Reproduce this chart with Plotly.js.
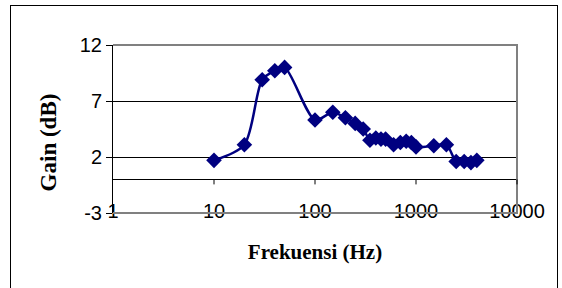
<!DOCTYPE html>
<html><head><meta charset="utf-8">
<script src="https://cdn.plot.ly/plotly-3.0.1.min.js"></script>
<style>
html,body{margin:0;padding:0;background:#fff;}
#wrap{position:relative;width:562px;height:288px;overflow:hidden;}
#chart{width:562px;height:288px;}
#frame{position:absolute;left:10px;top:5px;width:546px;height:320px;border:1px solid #000;pointer-events:none;}
</style>
</head><body>
<div id="wrap"><div id="chart"></div><div id="frame"></div></div>
<script>
const freq = [10,20,30,40,50,100,150,200,250,300,350,400,450,500,600,700,800,900,1000,1500,2000,2500,3000,3500,4000];
const gain = [1.7,3.1,8.9,9.7,10.0,5.3,6.0,5.5,5.0,4.5,3.5,3.7,3.6,3.6,3.1,3.3,3.4,3.3,2.9,3.0,3.1,1.6,1.6,1.5,1.7];
const xTickVals = [1,10,100,1000,10000];
const xTickText = ['1','10','100','1000','10000'];
const yTickVals = [-3,2,7,12];
const yTickText = ['-3','2','7','12'];
const xTitle = 'Frekuensi (Hz)';
const yTitle = 'Gain (dB)';

const xRange = [0,4];
const yRange = [-3,12];
const navy = '#000080';
const sansFont = 'Liberation Sans, Arial, sans-serif';
const serifFont = 'Liberation Serif, Times New Roman, serif';

const trace = {
  x: freq, y: gain, type: 'scatter', mode: 'lines+markers',
  line: {color: navy, width: 2.5, shape: 'spline', smoothing: 0.8},
  marker: {symbol: 'diamond', size: 12, color: navy},
  cliponaxis: false, hoverinfo: 'skip'
};

const span = xRange[1] - xRange[0];
const tickShapes = xTickVals.slice(1).map(v => ({
  type: 'line', xref: 'paper', yref: 'y', ysizemode: 'pixel', yanchor: 0,
  x0: (Math.log10(v) - xRange[0]) / span, x1: (Math.log10(v) - xRange[0]) / span,
  y0: 0, y1: -5, line: {color: '#000', width: 1}
}));

const layout = {
  width: 562, height: 288,
  margin: {l: 113, r: 45, t: 45, b: 75},
  paper_bgcolor: '#fff', plot_bgcolor: '#fff',
  showlegend: false,
  xaxis: {
    type: 'log', range: xRange, tickvals: xTickVals, ticktext: xTickText,
    showgrid: false, zeroline: false, showline: false, ticks: '',
    ticklabelstandoff: -16,
    tickfont: {family: sansFont, size: 20, color: '#000'},
    title: {text: xTitle, font: {family: serifFont, size: 21, color: '#000', weight: 'bold'}, standoff: 23}
  },
  yaxis: {
    range: yRange, tickvals: yTickVals, ticktext: yTickText,
    showgrid: true, gridcolor: '#000', gridwidth: 1,
    zeroline: true, zerolinecolor: '#000', zerolinewidth: 1,
    showline: true, linecolor: '#000', linewidth: 1,
    ticks: 'outside', ticklen: 6, tickcolor: '#000', tickwidth: 1,
    tickfont: {family: sansFont, size: 20, color: '#000'}
  },
  annotations: [{
    text: yTitle, xref: 'paper', yref: 'paper', x: -0.161, y: 0.42,
    xanchor: 'center', yanchor: 'middle', textangle: -90, showarrow: false,
    font: {family: serifFont, size: 23, color: '#000', weight: 'bold'}
  }],
  shapes: [
    {type: 'path', xref: 'paper', yref: 'paper', path: 'M0,1 H1 V0 H0', line: {color: '#808080', width: 2}, layer: 'above'}
  ].concat(tickShapes)
};

Plotly.newPlot('chart', [trace], layout, {staticPlot: true, displayModeBar: false});
</script>
</body></html>
